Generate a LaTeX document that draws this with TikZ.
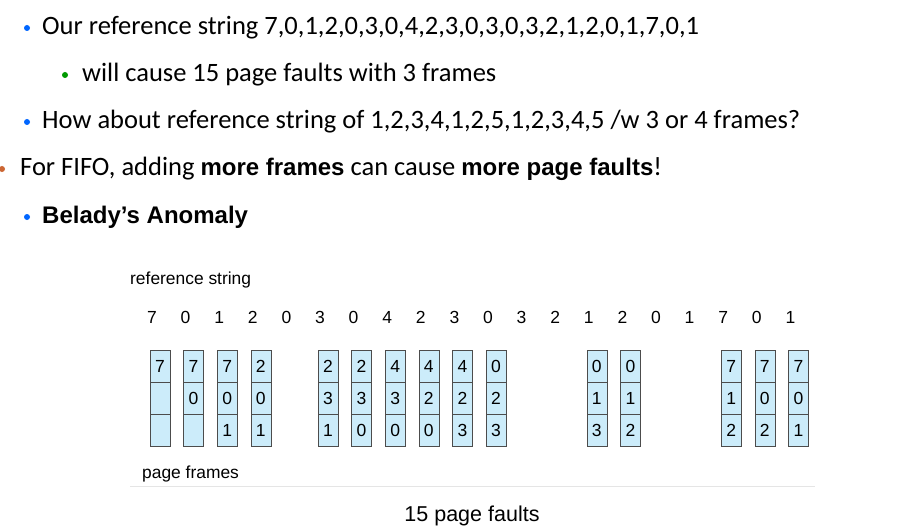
\documentclass[tikz,border=0pt]{standalone}
\usepackage{fontspec}
\setmainfont{Carlito}
\newfontfamily\arial{Liberation Sans}
\definecolor{cellfill}{RGB}{204,236,250}
\begin{document}
\begin{tikzpicture}[x=1pt,y=-1pt,
  txt/.style={anchor=west,inner sep=0pt,font=\fontsize{26.5}{30}\selectfont},
  bf/.style={},
  bul/.style={circle,inner sep=0pt,minimum size=6pt},
  dg/.style={inner sep=0pt,font=\arial\fontsize{17.5}{19}\selectfont},
  cell/.style={draw=black!70,fill=cellfill,line width=0.5pt,minimum width=20pt,minimum height=32pt,inner sep=0pt,font=\arial\fontsize{17.5}{19}\selectfont}]
\useasboundingbox[fill=white] (0,0) rectangle (913,532);
\newcommand\bft[1]{{\arial\bfseries\fontsize{24}{28}\selectfont #1}}
\node[bul,fill=blue!60!cyan] (b1) at (27,28) {};
\node[txt] (t1) at (42,28) {Our reference string 7,0,1,2,0,3,0,4,2,3,0,3,0,3,2,1,2,0,1,7,0,1};
\node[bul,fill=green!60!black] (b2) at (65,75) {};
\node[txt] (t2) at (82,75) {will cause 15 page faults with 3 frames};
\node[bul,fill=blue!60!cyan] (b3) at (27,122) {};
\node[txt] (t3) at (42,122) {How about reference string of 1,2,3,4,1,2,5,1,2,3,4,5 /w 3 or 4 frames?};
\node[bul,fill=brown!80!red] (b4) at (2,169) {};
\node[txt] (t4) at (20,169) {For FIFO, adding \bft{more frames} can cause \bft{more page faults}!};
\node[bul,fill=blue!60!cyan] (b5) at (27,217) {};
\node[txt] (t5) at (42,217) {\bft{Belady’s Anomaly}};
\node[anchor=west,inner sep=0pt,font=\arial\fontsize{17.4}{19}\selectfont] (rs) at (130,280) {reference string};
\node[anchor=west,inner sep=0pt,font=\arial\fontsize{17.4}{19}\selectfont] (pf) at (142,474) {page frames};
\draw[black!10] (130,486) -- (815,486);
\node[inner sep=0pt,font=\arial\fontsize{21.5}{24}\selectfont] (f15) at (472,516) {15 page faults};
\foreach \d [count=\i from 0] in {7,0,1,2,0,3,0,4,2,3,0,3,2,1,2,0,1,7,0,1}
  \node[dg] (r\i) at (152+\i*33.6,317) {\d};
\foreach \i/\a/\b/\c in {0/7//,1/7/0/,2/7/0/1,3/2/0/1,5/2/3/1,6/2/3/0,7/4/3/0,8/4/2/0,9/4/2/3,10/0/2/3,13/0/1/3,14/0/1/2,17/7/1/2,18/7/0/2,19/7/0/1}{
  \node[cell] (c\i a) at (160+\i*33.6,366) {\a};
  \node[cell] (c\i b) at (160+\i*33.6,398) {\b};
  \node[cell] (c\i c) at (160+\i*33.6,430) {\c};
}
\end{tikzpicture}
\end{document}
